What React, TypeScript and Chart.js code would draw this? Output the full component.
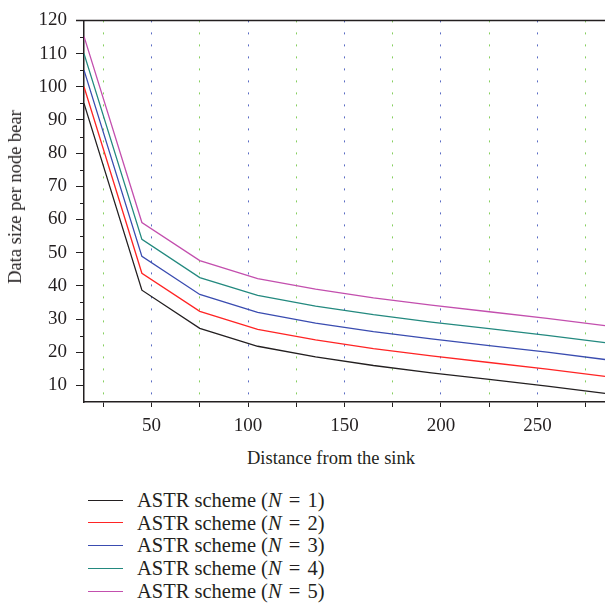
import React, { useEffect, useRef } from "react";
import { Chart, registerables } from "chart.js";

Chart.register(...registerables);

// ---- data ----
const distances = [15, 45, 75, 105, 135, 165, 195, 225, 255, 285];
const seriesN1 = [95, 38.7, 27.2, 21.8, 18.6, 16.0, 13.8, 11.8, 9.8, 7.6];
const seriesN2 = [100, 43.8, 32.3, 26.9, 23.7, 21.1, 18.9, 16.9, 14.9, 12.7];
const seriesN3 = [105, 48.9, 37.4, 32.0, 28.8, 26.2, 24.0, 22.0, 20.0, 17.8];
const seriesN4 = [110, 54.0, 42.5, 37.1, 33.9, 31.3, 29.1, 27.1, 25.1, 22.9];
const seriesN5 = [115.2, 59.1, 47.6, 42.2, 39.0, 36.4, 34.2, 32.2, 30.2, 28.0];
const seriesN = ["1", "2", "3", "4", "5"];
const seriesColors = ["#231f20", "#ff2424", "#3a4cb0", "#23897f", "#c34fae"];
const xTicks = [25, 50, 75, 100, 125, 150, 175, 200, 225, 250, 275];
const xLabeled = [50, 100, 150, 200, 250];
const yTicks = [10, 20, 30, 40, 50, 60, 70, 80, 90, 100, 110, 120];
const yMinorTicks = [15, 25, 35, 45, 55, 65, 75, 85, 95, 105, 115];
const xTitle = "Distance from the sink";
const yTitle = "Data size per node bear";

const FONT = "'Liberation Serif', 'DejaVu Serif', serif";
const DARK = "#231f20";
const GRID_GREEN = "#86cf5f";
const GRID_BLUE = "#5a6cc4";

const allSeries = [seriesN1, seriesN2, seriesN3, seriesN4, seriesN5];

const extrasPlugin = {
  id: "extras",
  afterDraw(chart: any) {
    const { ctx, chartArea } = chart;
    const yScale = chart.scales.y;
    ctx.save();
    ctx.strokeStyle = DARK;
    ctx.lineWidth = 1.5;
    ctx.beginPath();
    ctx.moveTo(chartArea.left - 8, chartArea.top);
    ctx.lineTo(chartArea.right, chartArea.top);
    ctx.stroke();
    ctx.lineWidth = 1;
    for (const v of yMinorTicks) {
      const y = Math.round(yScale.getPixelForValue(v)) + 0.5;
      ctx.beginPath();
      ctx.moveTo(chartArea.left - 4, y);
      ctx.lineTo(chartArea.left, y);
      ctx.stroke();
    }
    ctx.restore();
  },
};

export default function App() {
  const canvasRef = useRef<HTMLCanvasElement>(null);

  useEffect(() => {
    if (!canvasRef.current) return;
    const chart = new Chart(canvasRef.current, {
      type: "line",
      data: {
        datasets: allSeries.map((s, i) => ({
          label: `ASTR scheme (N = ${seriesN[i]})`,
          data: distances.map((x, j) => ({ x, y: s[j] })),
          borderColor: seriesColors[i],
          backgroundColor: seriesColors[i],
          borderWidth: 1.3,
          pointRadius: 0,
          tension: 0,
          fill: false,
        })),
      },
      options: {
        responsive: false,
        animation: false,
        layout: { padding: { top: 16, right: 0, left: 0, bottom: 0 } },
        plugins: {
          legend: { display: false },
          tooltip: { enabled: false },
          title: { display: false },
        },
        scales: {
          x: {
            type: "linear",
            min: 15,
            max: 285,
            afterBuildTicks: (s: any) => {
              s.ticks = xTicks.map((v) => ({ value: v }));
            },
            afterFit: (s: any) => {
              s.height = 43;
            },
            ticks: {
              autoSkip: false,
              maxRotation: 0,
              padding: 8,
              color: DARK,
              font: { family: FONT, size: 19 },
              callback: (v: any) => (xLabeled.includes(Number(v)) ? String(v) : ""),
            },
            grid: {
              display: true,
              drawOnChartArea: true,
              drawTicks: true,
              tickLength: 5,
              tickColor: DARK,
              tickWidth: 1,
              lineWidth: 1,
              color: (c: any) =>
                c.tick && c.tick.value % 50 === 0 ? GRID_BLUE : GRID_GREEN,
            },
            border: { display: true, color: DARK, width: 1.5, dash: [2, 10] },
          },
          y: {
            type: "linear",
            min: 5,
            max: 120,
            afterBuildTicks: (s: any) => {
              s.ticks = yTicks.map((v) => ({ value: v }));
            },
            afterFit: (s: any) => {
              s.width = 84;
            },
            ticks: {
              autoSkip: false,
              padding: 9,
              color: DARK,
              font: { family: FONT, size: 19 },
              callback: (v: any) => String(v),
            },
            grid: {
              display: true,
              drawOnChartArea: false,
              drawTicks: true,
              tickLength: 8,
              tickColor: DARK,
              tickWidth: 1,
            },
            border: { display: true, color: DARK, width: 1.5 },
          },
        },
      },
      plugins: [extrasPlugin],
    } as any);
    return () => chart.destroy();
  }, []);

  const legendCenters = [500, 522.7, 545.4, 568.2, 591];

  return (
    <div
      style={{
        position: "absolute",
        left: 0,
        top: 0,
        width: 605,
        height: 605,
        background: "#fff",
        overflow: "hidden",
        fontFamily: FONT,
        color: DARK,
      }}
    >
      <canvas
        ref={canvasRef}
        width={605}
        height={445}
        style={{ position: "absolute", left: 0, top: 0, display: "block" }}
      />
      <div
        style={{
          position: "absolute",
          left: 15,
          top: 196.5,
          transform: "translate(-50%, -50%) rotate(-90deg)",
          whiteSpace: "nowrap",
          fontSize: 18.5,
          lineHeight: "20px",
        }}
      >
        {yTitle}
      </div>
      <div
        style={{
          position: "absolute",
          left: 331,
          top: 458,
          transform: "translate(-50%, -50%)",
          whiteSpace: "nowrap",
          fontSize: 18.5,
          lineHeight: "20px",
        }}
      >
        {xTitle}
      </div>
      {seriesN.map((n, i) => (
        <div
          key={n}
          style={{
            position: "absolute",
            left: 88,
            top: legendCenters[i] - 11,
            height: 22,
            display: "flex",
            alignItems: "center",
            whiteSpace: "nowrap",
            fontSize: 20.5,
            lineHeight: "22px",
          }}
        >
          <span
            style={{
              display: "inline-block",
              width: 35,
              height: 0,
              borderTop: `1.3px solid ${seriesColors[i]}`,
              marginRight: 14,
            }}
          />
          <span>
            ASTR scheme (<i>N</i>
            <span style={{ margin: "0 2px" }}> = </span>
            {n})
          </span>
        </div>
      ))}
    </div>
  );
}
